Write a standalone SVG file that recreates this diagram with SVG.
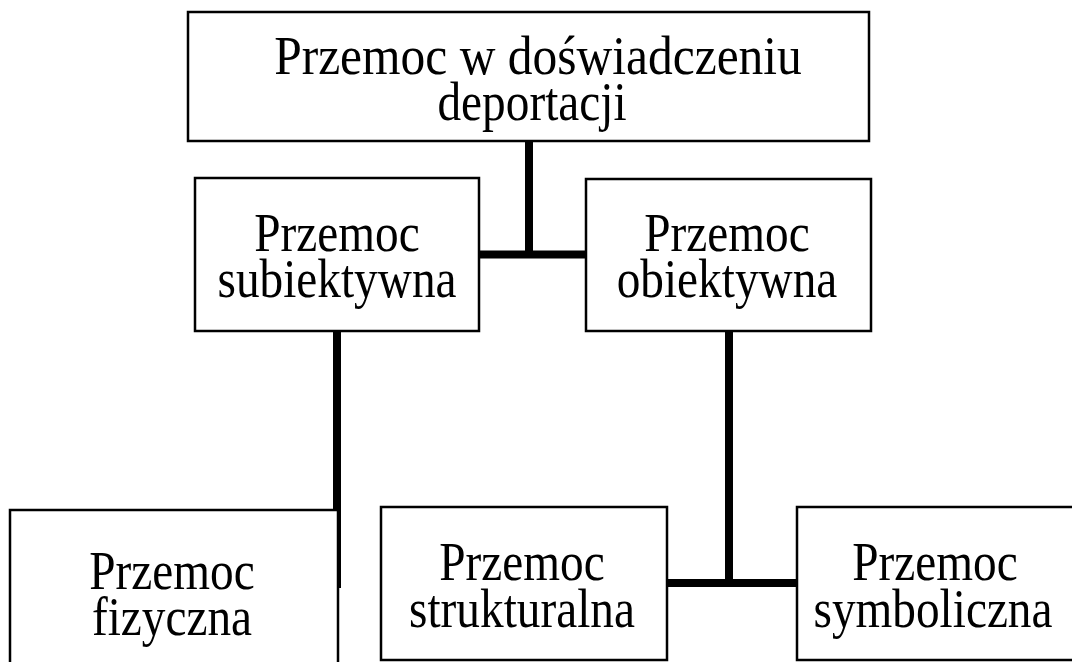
<svg xmlns="http://www.w3.org/2000/svg" width="1072" height="662" viewBox="0 0 1072 662">
<style>
.box{fill:#fff;stroke:#000;stroke-width:2.5}
.t{font-family:"Liberation Serif","Times New Roman",serif;font-size:55px;fill:#000;text-anchor:middle}
.c{stroke:#000;stroke-width:8;fill:none;stroke-linecap:butt}
</style>
<rect width="1072" height="662" fill="#fff"/>
<g id="connectors">
<path class="c" d="M529,141 V258"/>
<path class="c" d="M479,254.5 H586"/>
<path class="c" d="M337,331 V588"/>
<path class="c" d="M729,331 V587"/>
<path class="c" d="M667,583 H797"/>
</g>
<g id="n-top">
<rect class="box" x="188" y="12" width="681" height="129"/>
<text class="t" transform="translate(538,74) scale(0.9,1)">Przemoc w doświadczeniu</text>
<text class="t" transform="translate(532,120) scale(0.86,1)">deportacji</text>
</g>
<g id="n-subiektywna">
<rect class="box" x="195" y="178" width="284" height="153"/>
<text class="t" transform="translate(337,251) scale(0.86,1)">Przemoc</text>
<text class="t" transform="translate(337,297) scale(0.86,1)">subiektywna</text>
</g>
<g id="n-obiektywna">
<rect class="box" x="586" y="179" width="285" height="152"/>
<text class="t" transform="translate(727,251) scale(0.86,1)">Przemoc</text>
<text class="t" transform="translate(727,297) scale(0.86,1)">obiektywna</text>
</g>
<g id="n-fizyczna">
<rect class="box" x="10" y="510" width="328" height="160"/>
<text class="t" transform="translate(172,589) scale(0.86,1)">Przemoc</text>
<text class="t" transform="translate(172,635) scale(0.86,1)">fizyczna</text>
</g>
<g id="n-strukturalna">
<rect class="box" x="381" y="507" width="286" height="153"/>
<text class="t" transform="translate(522,580) scale(0.86,1)">Przemoc</text>
<text class="t" transform="translate(522,627) scale(0.86,1)">strukturalna</text>
</g>
<g id="n-symboliczna">
<rect class="box" x="797" y="507" width="290" height="153"/>
<text class="t" transform="translate(935,580) scale(0.86,1)">Przemoc</text>
<text class="t" transform="translate(933,627) scale(0.86,1)">symboliczna</text>
</g>
</svg>
